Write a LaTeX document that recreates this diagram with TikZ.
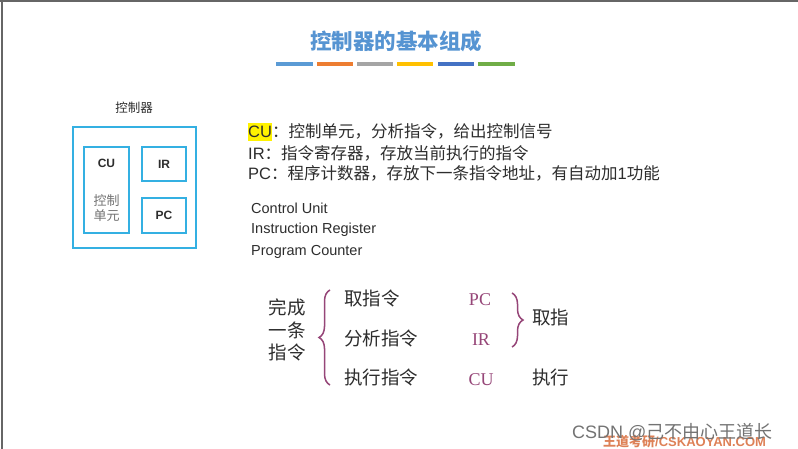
\documentclass[tikz,border=0pt]{standalone}
\usepackage{fontspec}
\setmainfont{Liberation Sans}
\newfontfamily\cjk{Noto Sans CJK SC}
\newfontfamily\serifx{Liberation Serif}
\usetikzlibrary{decorations.pathreplacing}
\definecolor{titleblue}{RGB}{86,148,210}
\definecolor{boxblue}{RGB}{52,176,226}
\definecolor{barA}{RGB}{91,155,213}
\definecolor{barB}{RGB}{237,125,49}
\definecolor{barC}{RGB}{165,165,165}
\definecolor{barD}{RGB}{255,192,0}
\definecolor{barE}{RGB}{68,114,196}
\definecolor{barF}{RGB}{112,173,71}
\definecolor{txt}{RGB}{45,45,45}
\definecolor{plum}{RGB}{150,70,120}
\definecolor{wmorange}{RGB}{214,98,45}
\tikzset{
  regbox/.style={draw=boxblue,line width=2pt},
  cnline/.style={anchor=west,inner sep=0pt,text=txt,font=\fontsize{16.5}{20}\selectfont},
  enline/.style={anchor=base west,inner sep=0pt,text=txt,font=\fontsize{14.5}{17}\selectfont},
  bigcn/.style={anchor=west,inner sep=0pt,text=txt,font=\cjk\fontsize{18.5}{22}\selectfont},
  regname/.style={inner sep=0pt,text=plum,font=\serifx\fontsize{18}{20}\selectfont},
  boxlbl/.style={inner sep=0pt,text=txt,font=\bfseries\fontsize{12}{14}\selectfont},
  bracex/.style={draw=plum,line width=1.5pt,decorate,decoration={brace,amplitude=11pt}}
}
\begin{document}
\begin{tikzpicture}[x=1pt,y=-1pt]
\useasboundingbox (0,0) rectangle (798,449);
\fill[white] (0,0) rectangle (798,449);
% frame lines
\draw[line width=2pt,black!60] (0,1.5) -- (798,1.5);
\draw[line width=2pt,black!60] (1.5,0) -- (1.5,449);
% title
\node[inner sep=0pt,text=titleblue,font=\cjk\bfseries\fontsize{21.5}{24}\selectfont] (title) at (396,41) {控制器的基本组成};
% color bars
\fill[barA] (276,62) rectangle (313,66);
\fill[barB] (317,62) rectangle (353,66);
\fill[barC] (357,62) rectangle (393,66);
\fill[barD] (397,62) rectangle (433,66);
\fill[barE] (438,62) rectangle (474,66);
\fill[barF] (478,62) rectangle (515,66);
% left diagram
\node[inner sep=0pt,text=txt,font=\cjk\fontsize{12.5}{14}\selectfont] (ctrl) at (134,108) {控制器};
\draw[regbox] (73,127) rectangle (196,248);
\draw[regbox] (84,147) rectangle (129,233);
\draw[regbox] (142,147) rectangle (186,181);
\draw[regbox] (142,198) rectangle (186,233);
\node[boxlbl] (cu) at (106.5,163) {CU};
\node[inner sep=0pt,align=center,text=black!55,font=\cjk\fontsize{13}{15}\selectfont] (cudesc) at (106.5,208) {控制\\单元};
\node[boxlbl] (ir) at (164,164) {IR};
\node[boxlbl] (pc) at (164,215.5) {PC};
% description lines
\node[cnline] (l1) at (248,132) {\colorbox{yellow}{\hspace{-3pt}CU\hspace{-3pt}}{\cjk ：控制单元，分析指令，给出控制信号}};
\node[cnline] (l2) at (248,153) {IR{\cjk ：指令寄存器，存放当前执行的指令}};
\node[cnline] (l3) at (248,173) {PC{\cjk ：程序计数器，存放下一条指令地址，有自动加}1{\cjk 功能}};
\node[enline] (e1) at (251,214) {Control Unit};
\node[enline] (e2) at (251,234) {Instruction Register};
\node[enline] (e3) at (251,256) {Program Counter};
% bottom part
\node[inner sep=0pt,align=center,text=txt,font=\cjk\fontsize{18.5}{22.5}\selectfont] (whole) at (287,330) {完成\\一条\\指令};
\coordinate (lbT) at (330,290);
\coordinate (lbB) at (330,385);
\draw[bracex] (lbB) -- (lbT);
\node[bigcn] (s1) at (344,298) {取指令};
\node[bigcn] (s2) at (344,338) {分析指令};
\node[bigcn] (s3) at (344,377) {执行指令};
\node[regname] (rpc) at (480,300) {PC};
\node[regname] (rir) at (481,340) {IR};
\node[regname] (rcu) at (481,380) {CU};
\coordinate (rbT) at (512,293);
\coordinate (rbB) at (512,347);
\draw[bracex] (rbT) -- (rbB);
\node[bigcn] (f1) at (532,317) {取指};
\node[bigcn] (f2) at (532,377) {执行};
% watermark
\node[anchor=west,inner sep=0pt,text=wmorange,opacity=0.8,font=\bfseries\fontsize{13}{15}\selectfont] (wm2) at (603,442) {{\cjk 王道考研}/CSKAOYAN.COM};
\node[anchor=west,inner sep=0pt,text=black!55,font=\fontsize{18}{20}\selectfont] (wm1) at (572,432) {CSDN @{\cjk 己不由心王道长}};
\end{tikzpicture}
\end{document}
